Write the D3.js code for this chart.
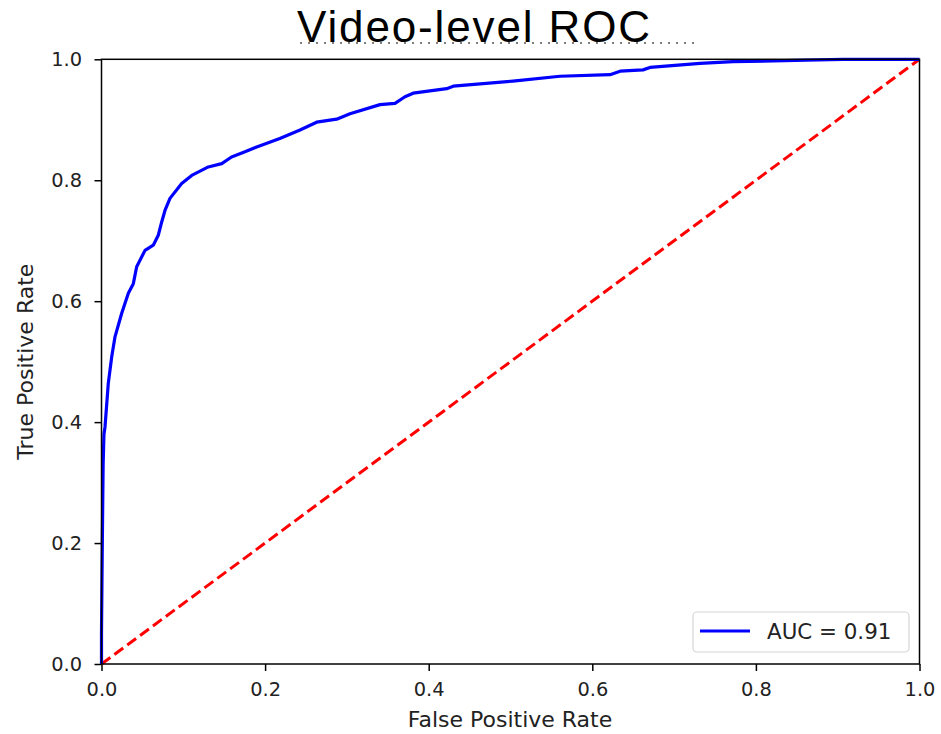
<!DOCTYPE html>
<html>
<head>
<meta charset="utf-8">
<script src="https://cdn.jsdelivr.net/npm/d3@7"></script>
<style>
  body { margin: 0; background: #fff; }
  text { font-family: "DejaVu Sans", sans-serif; fill: #222; }
</style>
</head>
<body>
<div id="chart"></div>
<script>
// ROC data
var fpr = [0, 0, 0.001, 0.002, 0.003, 0.0043, 0.0083, 0.0125, 0.0165, 0.0247, 0.0328, 0.0389, 0.043,
           0.0532, 0.0633, 0.0694, 0.0736, 0.0776, 0.0837, 0.098, 0.1103, 0.1306, 0.147, 0.159, 0.1754,
           0.1897, 0.218, 0.2427, 0.263, 0.2875, 0.3038, 0.3405, 0.3588, 0.371, 0.381, 0.422, 0.43,
           0.503, 0.5605, 0.6217, 0.634, 0.662, 0.6705, 0.7317, 0.772, 0.862, 0.9065, 1];
var tpr = [0, 0.05, 0.2, 0.33, 0.38, 0.392, 0.464, 0.508, 0.541, 0.58, 0.613, 0.629, 0.657,
           0.684, 0.6926, 0.709, 0.731, 0.75, 0.77, 0.7945, 0.808, 0.822, 0.8275, 0.8385, 0.847,
           0.855, 0.869, 0.883, 0.896, 0.901, 0.91, 0.925, 0.927, 0.938, 0.944, 0.9515, 0.9555,
           0.964, 0.972, 0.9745, 0.9804, 0.9825, 0.9866, 0.9934, 0.996, 0.9985, 1, 1];
var chance = [0, 1];
var xTicks = [0, 0.2, 0.4, 0.6, 0.8, 1.0];
var yTicks = [0, 0.2, 0.4, 0.6, 0.8, 1.0];
var legendLabel = "AUC = 0.91";
var titleText = "Video-level ROC";

var W = 941, H = 734;
// plot box (window.top is reserved, so prefixed names)
var pLeft = 101.5, pRight = 919.5, pTop = 59.3, pBottom = 664;
var fsTick = 19.4, fsLabel = 22;

var svg = d3.select("#chart").append("svg")
  .attr("width", W)
  .attr("height", H);

var x = d3.scaleLinear().domain([0, 1]).range([pLeft, pRight]);
var y = d3.scaleLinear().domain([0, 1]).range([pBottom, pTop]);

// title (with the dotted baseline seen in the picture)
svg.append("line")
  .attr("x1", 300).attr("x2", 697)
  .attr("y1", 43).attr("y2", 43)
  .attr("stroke", "#555")
  .attr("stroke-width", 1.4)
  .attr("stroke-dasharray", "2,6");
svg.append("text")
  .attr("x", 297)
  .attr("y", 42)
  .attr("textLength", 353)
  .style("font-family", "'Liberation Sans', Arial, sans-serif")
  .style("font-size", "44px")
  .style("fill", "#000")
  .text(titleText);

// axes
var xAxis = d3.axisBottom(x).tickValues(xTicks).tickFormat(d3.format(".1f")).tickSize(7).tickPadding(11.5);
var yAxis = d3.axisLeft(y).tickValues(yTicks).tickFormat(d3.format(".1f")).tickSize(7).tickPadding(12.5);

var gx = svg.append("g").attr("transform", "translate(0," + pBottom + ")").call(xAxis);
var gy = svg.append("g").attr("transform", "translate(" + pLeft + ",0)").call(yAxis);
[gx, gy].forEach(function(g) {
  g.select(".domain").remove();
  g.selectAll(".tick line").attr("stroke", "#000").attr("stroke-width", 1.5);
  g.selectAll(".tick text")
    .style("font-family", "'DejaVu Sans', sans-serif")
    .style("font-size", fsTick + "px")
    .style("fill", "#222");
});

// lines
var line = d3.line()
  .x(function(d) { return x(d[0]); })
  .y(function(d) { return y(d[1]); });

svg.append("path")
  .datum(chance.map(function(d) { return [d, d]; }))
  .attr("d", line)
  .attr("fill", "none")
  .attr("stroke", "#ff0000")
  .attr("stroke-width", 3)
  .attr("stroke-dasharray", "11,5");

svg.append("path")
  .datum(fpr.map(function(d, i) { return [d, tpr[i]]; }))
  .attr("d", line)
  .attr("fill", "none")
  .attr("stroke", "#0000ff")
  .attr("stroke-width", 3.2)
  .attr("stroke-linejoin", "round");

// frame
svg.append("rect")
  .attr("x", pLeft).attr("y", pTop)
  .attr("width", pRight - pLeft).attr("height", pBottom - pTop)
  .attr("fill", "none")
  .attr("stroke", "#000")
  .attr("stroke-width", 1.5);

// axis labels
svg.append("text")
  .attr("x", 510)
  .attr("y", 727)
  .attr("text-anchor", "middle")
  .style("font-size", fsLabel + "px")
  .text("False Positive Rate");
svg.append("text")
  .attr("transform", "translate(33," + ((pTop + pBottom) / 2) + ") rotate(-90)")
  .attr("text-anchor", "middle")
  .style("font-size", fsLabel + "px")
  .text("True Positive Rate");

// legend
var lg = svg.append("g");
lg.append("rect")
  .attr("x", 693).attr("y", 612)
  .attr("width", 216).attr("height", 40)
  .attr("rx", 4)
  .attr("fill", "#fff")
  .attr("fill-opacity", 0.8)
  .attr("stroke", "#d6d6d6")
  .attr("stroke-width", 1.2);
lg.append("line")
  .attr("x1", 700).attr("x2", 750)
  .attr("y1", 631).attr("y2", 631)
  .attr("stroke", "#0000ff")
  .attr("stroke-width", 3.2);
lg.append("text")
  .attr("x", 767)
  .attr("y", 639)
  .style("font-size", "21.4px")
  .text(legendLabel);
</script>
</body>
</html>
